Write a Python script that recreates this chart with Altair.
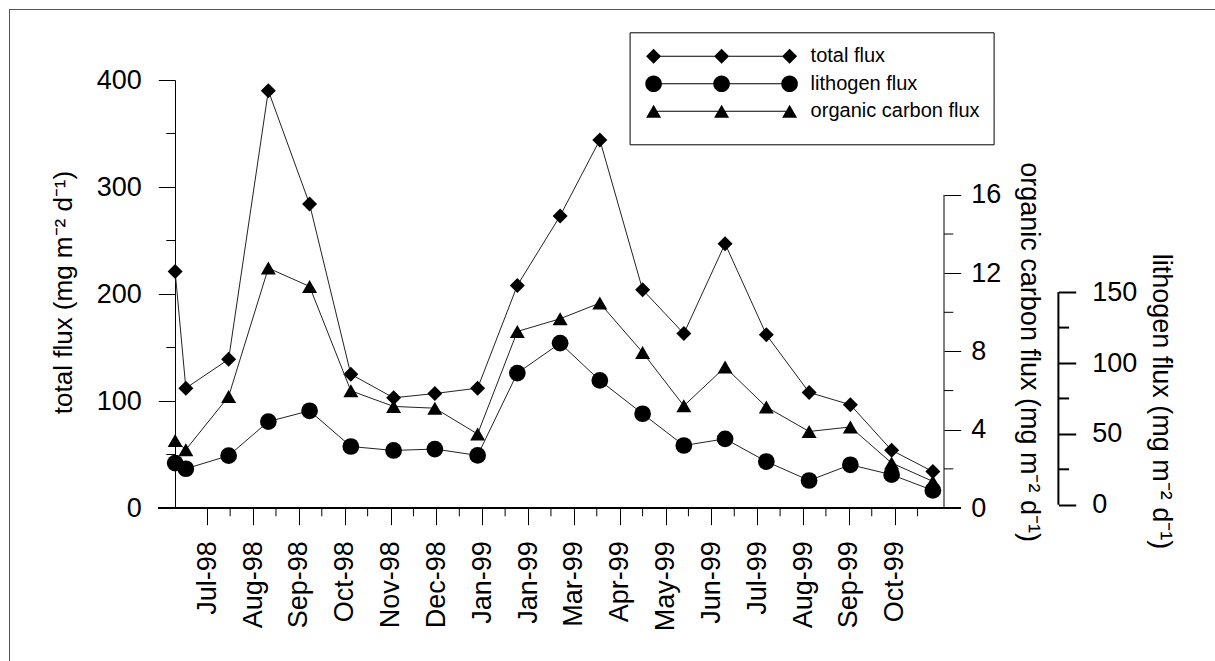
import json
import altair as alt
import pandas as pd

# ---------------- data ----------------
# sampling positions, in days after the first labelled tick ("Jul-98")
sample_day = [-21, -14, 14, 40, 67, 94, 122, 149, 177, 203,
              231, 257, 285, 312, 339, 366, 394, 421, 448, 475]
total_flux = [221, 112, 139, 390, 284, 125, 103, 107, 112, 208,
              273, 344, 204, 163, 247, 162, 108, 96.5, 54, 34]
lithogen_flux = [29.4, 25.4, 34.6, 58.7, 66.3, 41.1, 38.3, 39.3, 34.8, 92.9,
                 114, 87.7, 64.2, 41.8, 46.5, 30.5, 17.1, 28.2, 21.2, 10.1]
organic_carbon_flux = [3.45, 2.98, 5.7, 12.26, 11.32, 5.99, 5.19, 5.1, 3.78, 9.02,
                       9.67, 10.47, 7.95, 5.22, 7.2, 5.16, 3.91, 4.14, 2.3, 1.36]

tick_labels = ["Jul-98", "Aug-98", "Sep-98", "Oct-98", "Nov-98", "Dec-98",
               "Jan-99", "Jan-99", "Mar-99", "Apr-99", "May-99", "Jun-99",
               "Jul-99", "Aug-99", "Sep-99", "Oct-99"]
tick_step = 30          # days between labelled ticks
x_ticks = [i * tick_step for i in range(len(tick_labels))]
total_ticks = [0, 100, 200, 300, 400]
organic_ticks = [0, 4, 8, 12, 16]
litho_ticks = [0, 50, 100, 150]
series = ["total flux", "lithogen flux", "organic carbon flux"]

unit = " (mg m\u207b\u00b2 d\u207b\u00b9)"

# ---------------- layout / style ----------------
W, H = 769, 428
PAD_L, PAD_T = 175, 80
FONT = "Liberation Sans, Arial, sans-serif"
FS = 27
LITHO_OFFSET = 114.4


def minors(major):
    step = major[1] - major[0]
    return [v + step / 2 for v in major[:-1]]


df = pd.DataFrame({
    "day": sample_day,
    "total": total_flux,
    "litho": lithogen_flux,
    "organic": organic_carbon_flux,
})

x_scale = alt.Scale(domain=[-21.1, 482.3], nice=False, zero=False)
x_enc = alt.X("day:Q", scale=x_scale,
              axis=alt.Axis(
                  values=x_ticks,
                  labelExpr=f"{json.dumps(tick_labels)}[round(datum.value / {tick_step})]",
                  tickSize=16.7, labelAngle=-90, labelPadding=16, domain=False, title=None,
                  labelFontSize=FS, labelFont=FONT, labelColor="black",
                  tickColor="black", grid=False, labelOverlap=False))

common_axis = dict(labelFontSize=FS, labelFont=FONT, labelColor="black",
                   titleFont=FONT, titleColor="black", titleFontWeight="normal",
                   tickColor="black", domainColor="black", grid=False,
                   titleAlign="center", titleBaseline="middle", labelOverlap=False)


def series_layer(field, domain, axis, shape, size, major, minor_x, minor_x2,
                 rule_x=None, stroke_w=1):
    ysc = alt.Scale(domain=domain, nice=False, zero=False)
    base = alt.Chart(df)
    line = base.mark_line(color="#222222", strokeWidth=1).encode(
        x=x_enc, y=alt.Y(f"{field}:Q", scale=ysc, axis=axis))
    pts = base.mark_point(shape=shape, size=size, filled=True, color="black", opacity=1).encode(
        x=alt.X("day:Q"), y=alt.Y(f"{field}:Q", scale=ysc, axis=axis))
    mt = alt.Chart(pd.DataFrame({"v": minors(major)})).mark_rule(
        color="black", strokeWidth=stroke_w).encode(
        x=alt.value(minor_x), x2=alt.value(minor_x2),
        y=alt.Y("v:Q", scale=ysc, axis=axis))
    layers = [line, pts, mt]
    if rule_x is not None:
        rule = alt.Chart(pd.DataFrame({"a": [major[0]], "b": [major[-1]]})).mark_rule(
            color="black", strokeWidth=stroke_w).encode(
            x=alt.value(rule_x),
            y=alt.Y("a:Q", scale=ysc, axis=axis),
            y2=alt.Y2("b:Q"))
        layers.append(rule)
    return alt.layer(*layers)


total_axis = alt.Axis(
    orient="left", values=total_ticks, tickSize=16.7,
    labelPadding=17, title="total flux" + unit, titleAngle=-90, titleFontSize=26,
    titleX=-111.7, titleY=212, **common_axis)

organic_axis = alt.Axis(
    orient="right", values=organic_ticks, tickSize=16.7,
    labelPadding=10, domain=False, title="organic carbon flux" + unit, titleAngle=90,
    titleFontSize=FS, titleX=84, titleY=271.6, **common_axis)

litho_axis = alt.Axis(
    orient="right", offset=LITHO_OFFSET, values=litho_ticks, tickSize=17.3,
    tickWidth=2, labelPadding=16, domain=False, title="lithogen flux" + unit, titleAngle=90,
    titleFontSize=FS, titleX=102.3, titleY=321, **common_axis)

total_layer = series_layer("total", [0, 400], total_axis, "diamond", 225,
                           total_ticks, -8.7, 0)
organic_layer = series_layer("organic", [0, 21.87], organic_axis, "triangle-up", 225,
                             organic_ticks, W, W + 9.3, rule_x=W)
litho_layer = series_layer("litho", [-2.3, 299.7], litho_axis, "circle", 280,
                           litho_ticks, W + LITHO_OFFSET, W + LITHO_OFFSET + 10.7,
                           rule_x=W + LITHO_OFFSET, stroke_w=2)

# x axis line (runs under both outer tick sets) and minor x ticks
x_line = alt.Chart(df).mark_rule(color="black", strokeWidth=1).encode(
    x=alt.value(-16.7), x2=alt.value(W + 16.7), y=alt.value(H))
x_minor = alt.Chart(pd.DataFrame({"d": minors(x_ticks + [x_ticks[-1] + tick_step])})).mark_rule(
    color="black", strokeWidth=1).encode(
    x=alt.X("d:Q", scale=x_scale), y=alt.value(H), y2=alt.value(H + 8.3))

# figure frame (left and top edges)
frame_left = alt.Chart(df).mark_rule(color="#555555", strokeWidth=1).encode(
    x=alt.value(9.5 - PAD_L), y=alt.value(9.5 - PAD_T), y2=alt.value(661 - PAD_T))
frame_top = alt.Chart(df).mark_rule(color="#555555", strokeWidth=1).encode(
    x=alt.value(9.5 - PAD_L), x2=alt.value(1215 - PAD_L), y=alt.value(9.5 - PAD_T))


# legend: custom symbols = connecting line with three markers
def line_rect():
    return "M0,-0.5L136,-0.5L136,0.5L0,0.5Z"


def diamonds():
    return line_rect() + "".join(
        f"M{c-7.5},0L{c},-7.5L{c+7.5},0L{c},7.5Z" for c in (0, 68, 136))


def circles():
    r = 8.3
    return line_rect() + "".join(
        f"M{c-r},0A{r},{r} 0 1,1 {c+r},0A{r},{r} 0 1,1 {c-r},0Z" for c in (0, 68, 136))


def triangles():
    return line_rect() + "".join(
        f"M{c},-6.5L{c+7.5},6.5L{c-7.5},6.5Z" for c in (0, 68, 136)) + "M136,19L136,19Z"


legend_df = pd.DataFrame({"series": series})
legend_layer = alt.Chart(legend_df).mark_point(filled=True, color="black", opacity=0, size=4).encode(
    shape=alt.Shape("series:N",
                    scale=alt.Scale(domain=series, range=[diamonds(), circles(), triangles()]),
                    legend=alt.Legend(title=None, orient="none", legendX=454.6, legendY=-47.7,
                                      symbolSize=4, symbolOpacity=1, symbolFillColor="black",
                                      symbolStrokeWidth=0, labelFont=FONT, labelFontSize=20,
                                      labelColor="black", labelOffset=147, labelLimit=500,
                                      padding=14, rowPadding=7.5, strokeColor="black",
                                      fillColor="white")))

chart = alt.layer(total_layer, organic_layer, litho_layer, x_line, x_minor,
                  frame_left, frame_top, legend_layer).resolve_scale(
    y="independent", shape="independent"
).properties(
    width=W, height=H, autosize=alt.AutoSizeParams(type="none"),
    padding={"left": PAD_L, "top": PAD_T, "right": 1215 - PAD_L - W, "bottom": 661 - PAD_T - H},
    background="white",
).configure_view(stroke=None)

chart.save("out.html", embed_options={"renderer": "svg", "actions": False})
